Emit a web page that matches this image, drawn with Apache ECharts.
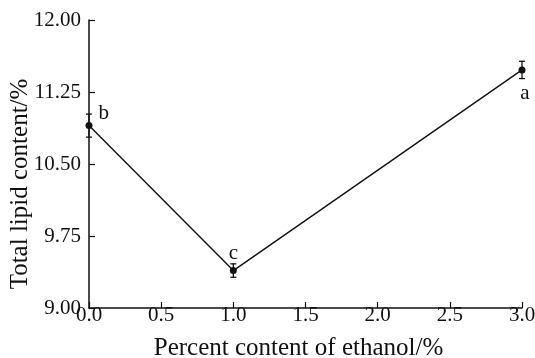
<!DOCTYPE html>
<html>
<head>
<meta charset="utf-8">
<script src="https://cdn.jsdelivr.net/npm/echarts@6/dist/echarts.min.js"></script>
<style>
  html, body { margin: 0; padding: 0; background: #fff; }
  #chart { width: 535px; height: 358px; }
</style>
</head>
<body>
<div id="chart"></div>
<script>
// Ethanol concentration (%) and measured total lipid content (%)
const ethanolPct = [0.0, 1.0, 3.0];
const lipidMean = [10.90, 9.39, 11.48];
const lipidErr = [0.12, 0.07, 0.09];
const sigLetters = ['b', 'c', 'a'];
const letterPlacement = ['right', 'top', 'bottom'];
const letterOffset = [[0, -12], [0, 3], [3, 4]];

const serif = '"Liberation Serif", "Times New Roman", serif';

const lineData = ethanolPct.map((x, i) => ({
  value: [x, lipidMean[i]],
  label: {
    show: true,
    formatter: sigLetters[i],
    position: letterPlacement[i],
    distance: 6,
    offset: letterOffset[i],
    fontFamily: serif,
    fontSize: 21,
    color: '#111'
  }
}));

const errData = ethanolPct.map((x, i) => [x, lipidMean[i] - lipidErr[i], lipidMean[i] + lipidErr[i]]);

const chart = echarts.init(document.getElementById('chart'), null, { renderer: 'canvas' });
chart.setOption({
  animation: false,
  backgroundColor: '#fff',
  grid: { left: 89, right: 13, top: 20, bottom: 50, containLabel: false, outerBoundsMode: 'none' },
  xAxis: {
    type: 'value',
    min: 0, max: 3, interval: 0.5,
    name: 'Percent content of ethanol/%',
    nameLocation: 'middle',
    nameGap: 28,
    nameMoveOverlap: false,
    nameTextStyle: { fontFamily: serif, fontSize: 25, color: '#111', padding: [0, 14, 0, 0] },
    axisLine: { lineStyle: { color: '#111', width: 1.5 } },
    axisTick: { inside: true, length: 6, lineStyle: { color: '#111', width: 1.2 } },
    axisLabel: { fontFamily: serif, fontSize: 21, color: '#111', margin: -3,
                 formatter: v => v.toFixed(1) },
    splitLine: { show: false }
  },
  yAxis: {
    type: 'value',
    min: 9, max: 12, interval: 0.75,
    name: 'Total lipid content/%',
    nameLocation: 'middle',
    nameGap: 56,
    nameMoveOverlap: false,
    nameTextStyle: { fontFamily: serif, fontSize: 25, color: '#111', padding: [0, 40, 0, 0] },
    axisLine: { show: true, lineStyle: { color: '#111', width: 1.5 } },
    axisTick: { show: true, inside: true, length: 6, lineStyle: { color: '#111', width: 1.2 } },
    axisLabel: { fontFamily: serif, fontSize: 21, color: '#111', margin: 8,
                 formatter: v => v.toFixed(2) },
    splitLine: { show: false }
  },
  series: [
    {
      type: 'line',
      data: lineData,
      symbol: 'circle',
      symbolSize: 7,
      itemStyle: { color: '#111' },
      lineStyle: { color: '#111', width: 1.4 },
      z: 3
    },
    {
      type: 'custom',
      data: errData,
      renderItem: function (params, api) {
        const x = api.value(0);
        const lo = api.coord([x, api.value(1)]);
        const hi = api.coord([x, api.value(2)]);
        const hw = 3;
        const style = { stroke: '#111', lineWidth: 1.3 };
        return {
          type: 'group',
          children: [
            { type: 'line', shape: { x1: lo[0], y1: lo[1], x2: hi[0], y2: hi[1] }, style },
            { type: 'line', shape: { x1: lo[0] - hw, y1: lo[1], x2: lo[0] + hw, y2: lo[1] }, style },
            { type: 'line', shape: { x1: hi[0] - hw, y1: hi[1], x2: hi[0] + hw, y2: hi[1] }, style }
          ]
        };
      },
      z: 4
    }
  ]
});
</script>
</body>
</html>
